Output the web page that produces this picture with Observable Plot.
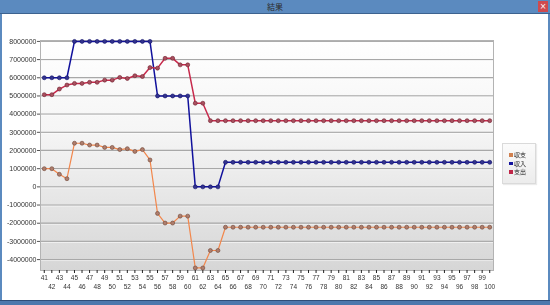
<!DOCTYPE html>
<html>
<head>
<meta charset="utf-8">
<script src="https://cdn.jsdelivr.net/npm/d3@7"></script>
<script src="https://cdn.jsdelivr.net/npm/@observablehq/plot@0.6"></script>
<style>
  html, body { margin: 0; padding: 0; background: #ffffff; }
  #win { position: relative; width: 550px; height: 305px; overflow: hidden; background: #ffffff; }
  #chart { position: absolute; left: 0; top: 0; will-change: transform; }
  .bar { position: absolute; }
  #titlebar { left: 0; top: 0; width: 550px; height: 13px; background: #5b8abf; border-bottom: 1px solid #3c628f;
    font-family: "Noto Sans CJK JP", sans-serif; font-size: 8px; line-height: 13px; text-align: center; color: #2b2b2b; }
  #close { left: 538px; top: 1px; width: 10px; height: 11px; background: #cf4a4e; color: #fff;
    font-family: "DejaVu Sans", sans-serif; font-size: 8px; line-height: 11px; text-align: center; }
  #lb { left: 0; top: 14px; width: 2px; height: 291px; background: #5b8abf; }
  #rb { left: 548px; top: 14px; width: 2px; height: 291px; background: #5b8abf; }
  #bb { left: 0; top: 300px; width: 550px; height: 5px; background: #4d78ad; border-top: 1px solid #2f4e78; box-sizing: border-box; }
  #legend { left: 502px; top: 143px; width: 34px; height: 41px; box-sizing: border-box; border: 1px solid #dadada;
    background: linear-gradient(#fbfbfb, #ececec); box-shadow: 1px 1px 1px rgba(0,0,0,0.08);
    padding: 7px 0 0 6px; font-family: "Noto Sans CJK JP", sans-serif; font-size: 6px; color: #222; will-change: transform; }
  .item { height: 8.7px; line-height: 8.7px; white-space: nowrap; }
  .sw { display: inline-block; width: 3.5px; height: 3.5px; margin-right: 1.5px; vertical-align: 0.5px; }
</style>
</head>
<body>
<div id="win"></div>
<script>
// ---- data ----
const years = [41,42,43,44,45,46,47,48,49,50,51,52,53,54,55,56,57,58,59,60,
  61,62,63,64,65,66,67,68,69,70,71,72,73,74,75,76,77,78,79,80,
  81,82,83,84,85,86,87,88,89,90,91,92,93,94,95,96,97,98,99,100];

// 収支 (balance)
const balance = [1000000,1000000,690000,450000,2400000,2400000,2300000,2300000,2170000,2170000,
  2050000,2100000,1950000,2050000,1480000,-1460000,-1990000,-1990000,-1610000,-1610000,
  -4460000,-4460000,-3500000,-3500000,-2220000,-2220000,-2220000,-2220000,-2220000,-2220000,
  -2220000,-2220000,-2220000,-2220000,-2220000,-2220000,-2220000,-2220000,-2220000,-2220000,
  -2220000,-2220000,-2220000,-2220000,-2220000,-2220000,-2220000,-2220000,-2220000,-2220000,
  -2220000,-2220000,-2220000,-2220000,-2220000,-2220000,-2220000,-2220000,-2220000,-2220000];

// 収入 (income)
const income = [6000000,6000000,6000000,6000000,8000000,8000000,8000000,8000000,8000000,8000000,
  8000000,8000000,8000000,8000000,8000000,5000000,5000000,5000000,5000000,5000000,
  0,0,0,0,1350000,1350000,1350000,1350000,1350000,1350000,
  1350000,1350000,1350000,1350000,1350000,1350000,1350000,1350000,1350000,1350000,
  1350000,1350000,1350000,1350000,1350000,1350000,1350000,1350000,1350000,1350000,
  1350000,1350000,1350000,1350000,1350000,1350000,1350000,1350000,1350000,1350000];

// 支出 (expense)
const expense = [5070000,5070000,5380000,5600000,5690000,5690000,5750000,5750000,5870000,5870000,
  6020000,5960000,6110000,6070000,6560000,6530000,7070000,7070000,6710000,6710000,
  4600000,4600000,3640000,3640000,3640000,3640000,3640000,3640000,3640000,3640000,
  3640000,3640000,3640000,3640000,3640000,3640000,3640000,3640000,3640000,3640000,
  3640000,3640000,3640000,3640000,3640000,3640000,3640000,3640000,3640000,3640000,
  3640000,3640000,3640000,3640000,3640000,3640000,3640000,3640000,3640000,3640000];

const seriesNames = ["収支", "収入", "支出"];
const yTicks = [-4000000,-3000000,-2000000,-1000000,0,1000000,2000000,3000000,4000000,5000000,6000000,7000000,8000000];
const xTicksRow1 = years.filter((y, i) => i % 2 === 0);
const xTicksRow2 = years.filter((y, i) => i % 2 === 1);

// ---- styles ----
const styles = {
  "収支": {line: "#f2874c", dotFill: "#ae7d6d", dotStroke: "#6e4434", width: 1.2, swatch: "#d0804f"},
  "収入": {line: "#11119c", dotFill: "#33338f", dotStroke: "#0c0c66", width: 1.5, swatch: "#13139e"},
  "支出": {line: "#c72a4c", dotFill: "#a9505f", dotStroke: "#6e1f2e", width: 1.5, swatch: "#c02648"}
};
const valuesBySeries = {"収支": balance, "収入": income, "支出": expense};

const seriesMarks = [];
for (const name of seriesNames) {
  const rows = years.map((yr, i) => ({year: yr, value: valuesBySeries[name][i]}));
  const s = styles[name];
  seriesMarks.push(Plot.line(rows, {x: "year", y: "value", stroke: s.line, strokeWidth: s.width}));
}
for (const name of seriesNames) {
  const rows = years.map((yr, i) => ({year: yr, value: valuesBySeries[name][i]}));
  const s = styles[name];
  seriesMarks.push(Plot.dot(rows, {x: "year", y: "value", r: 2, fill: s.dotFill, stroke: s.dotStroke, strokeWidth: 0.6}));
}

const chart = Plot.plot({
  width: 550,
  height: 305,
  marginLeft: 40,
  marginRight: 57,
  marginTop: 40,
  marginBottom: 35,
  style: {background: "transparent", fontFamily: "'Liberation Sans', Arial, sans-serif", color: "#333"},
  x: {type: "point", domain: years, padding: 0.5, axis: null},
  y: {domain: [-4600000, 8050000], axis: null},
  marks: [
    Plot.frame({fill: "url(#bgGrad)", stroke: null}),
    Plot.ruleY(yTicks, {stroke: "#a8a8a8", strokeWidth: 1.3}),
    Plot.ruleY(yTicks, {stroke: "#ffffff", strokeOpacity: 0.6, dy: 1}),
    Plot.frame({stroke: "#b3b3b3"}),
    Plot.axisY({ticks: yTicks, tickSize: 3, tickPadding: 1, tickFormat: d => String(d), fontSize: 7, label: null, stroke: "#555", fill: "#333"}),
    Plot.axisX({ticks: xTicksRow1, tickSize: 3, tickPadding: 2, tickFormat: d => String(d), fontSize: 6.5, label: null, stroke: "#222", fill: "#333"}),
    Plot.axisX({ticks: xTicksRow2, tickSize: 3, tickPadding: 11, tickFormat: d => String(d), fontSize: 6.5, label: null, stroke: "#222", fill: "#333"}),
    ...seriesMarks
  ]
});

// gradient background for the plot area
const ns = "http://www.w3.org/2000/svg";
const defs = document.createElementNS(ns, "defs");
const grad = document.createElementNS(ns, "linearGradient");
grad.setAttribute("id", "bgGrad");
grad.setAttribute("x1", "0"); grad.setAttribute("y1", "0");
grad.setAttribute("x2", "0"); grad.setAttribute("y2", "1");
[["0", "#ffffff"], ["0.4", "#f5f5f5"], ["1", "#d6d6d6"]].forEach(([o, c]) => {
  const st = document.createElementNS(ns, "stop");
  st.setAttribute("offset", o); st.setAttribute("stop-color", c);
  grad.appendChild(st);
});
defs.appendChild(grad);
chart.insertBefore(defs, chart.firstChild);
chart.id = "chart";

const win = document.getElementById("win");
win.appendChild(chart);

// window chrome
function addDiv(id, html) {
  const d = document.createElement("div");
  d.id = id; d.className = "bar";
  if (html != null) d.innerHTML = html;
  win.appendChild(d);
  return d;
}
addDiv("titlebar", "結果");
addDiv("close", "×");
addDiv("lb"); addDiv("rb"); addDiv("bb");

// legend
const legend = addDiv("legend");
for (const name of seriesNames) {
  const item = document.createElement("div");
  item.className = "item";
  const sw = document.createElement("span");
  sw.className = "sw";
  sw.style.background = styles[name].swatch;
  item.appendChild(sw);
  item.appendChild(document.createTextNode(name));
  legend.appendChild(item);
}
</script>
</body>
</html>
